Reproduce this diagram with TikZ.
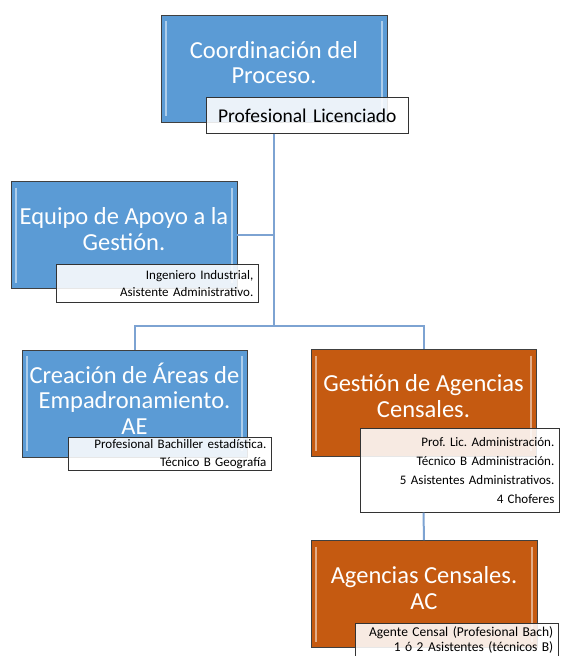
\documentclass[tikz,border=0pt]{standalone}
\usepackage{fontspec}
\setmainfont{Carlito}
\frenchspacing
\definecolor{boxblue}{RGB}{91,155,213}
\definecolor{boxorange}{RGB}{197,90,17}
\definecolor{linkblue}{RGB}{125,163,210}
\begin{document}
\begin{tikzpicture}[x=1pt,y=-1pt,
    box/.style={draw=black!75, line width=0.8pt, minimum width=226pt, minimum height=107pt,
      path picture={
        \draw[white, opacity=0.5, line width=1.5pt]
          ([shift={(5pt,-6pt)}]path picture bounding box.north west) -- ([shift={(5pt,6pt)}]path picture bounding box.south west)
          ([shift={(-5pt,-6pt)}]path picture bounding box.north east) -- ([shift={(-5pt,6pt)}]path picture bounding box.south east);}},
    bluebox/.style={box, fill=boxblue},
    orangebox/.style={box, fill=boxorange},
    title/.style={text=white, align=center, font=\fontsize{24.5}{25.5}\selectfont},
    tag/.style={draw=black!80, line width=0.7pt, fill=white, fill opacity=0.88, text opacity=1,
      anchor=north west, inner xsep=5pt, inner ysep=0pt, align=right, font=\fontsize{13}{19}\selectfont},
    link/.style={draw=linkblue, line width=2pt}]
        \useasboundingbox (0,0) rectangle (560,656);

        % main boxes
        \node[bluebox] (coord) at (274,68.5) {};
        \node[bluebox] (equipo) at (124,235) {};
        \node[bluebox, minimum width=225pt] (areas) at (134.5,403.5) {};
        \node[orangebox, minimum width=225pt] (gestion) at (423.5,403) {};
        \node[orangebox] (agencias) at (424,594) {};

        \node[title] (coordtxt) at ([yshift=6pt]coord.center) {Coordinación del\\Proceso.};
        \node[title] (equipotxt) at ([yshift=6pt]equipo.center) {Equipo de Apoyo a la\\Gestión.};
        \node[title] (areastxt) at ([yshift=5pt]areas.center) {Creación de Áreas de\\Empadronamiento.\\AE};
        \node[title] (gestiontxt) at ([yshift=7pt]gestion.center) {Gestión de Agencias\\Censales.};
        \node[title] (agenciastxt) at ([yshift=6pt]agencias.center) {Agencias Censales.\\AC};

        % staff tags
        \node[tag, align=center, minimum height=36pt, text width=192pt, font=\fontsize{19.5}{22}\selectfont] (coordtag) at (206,97) {Profesional Licenciado};
        \node[tag, minimum height=38pt, text width=192pt, font=\fontsize{13}{17}\selectfont] (equipotag) at (56,264) {Ingeniero Industrial,\\Asistente Administrativo.};
        \node[tag, minimum height=33pt, text width=193pt, font=\fontsize{13}{18}\selectfont] (areastag) at (68,437) {Profesional Bachiller estadística.\\Técnico B Geografía};
        \node[tag, minimum height=84pt, text width=189pt] (gestiontag) at (360,428) {Prof. Lic. Administración.\\Técnico B Administración.\\5 Asistentes Administrativos.\\4 Choferes};
        \node[tag, minimum height=34pt, text width=193pt, font=\fontsize{13.5}{15}\selectfont] (agenciastag) at (355,623) {Agente Censal (Profesional Bach)\\1 ó 2 Asistentes (técnicos B)};

        % connectors
        \coordinate (hub) at (274,326);
        \draw[link] (coord.south |- coordtag.south) -- (hub);
        \draw[link] (equipo.east) -| (hub);
        \draw[link] (areas.north) |- (hub) -| (gestion.north);
        \draw[link] (gestion.south |- gestiontag.south) -- (agencias.north);
    \end{tikzpicture}
\end{document}
